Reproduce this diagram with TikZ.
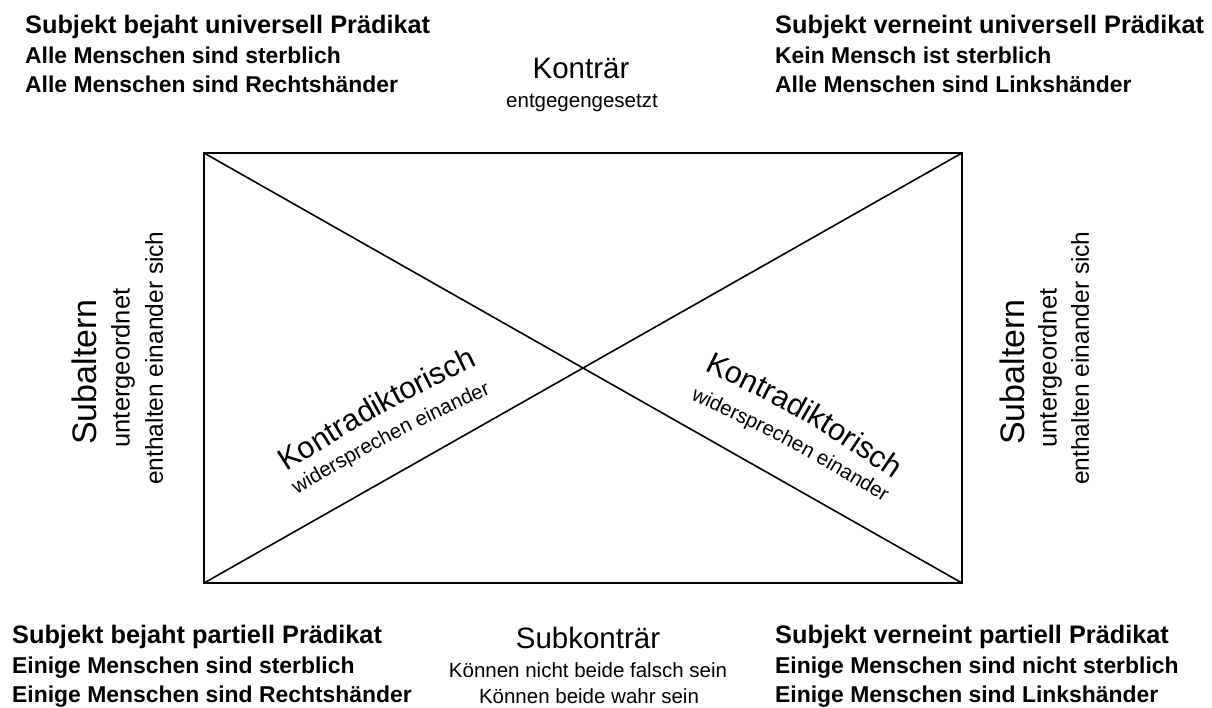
\documentclass[tikz,border=0pt]{standalone}
\usepackage{fontspec}
\setmainfont{Liberation Sans}
\usetikzlibrary{decorations.text}
\begin{document}
\begin{tikzpicture}[x=1pt,y=-1pt,
  head/.style={anchor=base west,inner sep=0pt,font=\bfseries\fontsize{25.3}{28}\selectfont},
  sub/.style={anchor=base west,inner sep=0pt,font=\bfseries\fontsize{22.9}{26}\selectfont},
  big/.style={anchor=base,inner sep=0pt,font=\fontsize{29.5}{32}\selectfont},
  small/.style={anchor=base,inner sep=0pt,font=\fontsize{20.5}{24}\selectfont},
  sidebig/.style={inner sep=0pt,rotate=90,font=\fontsize{34}{36}\selectfont},
  sidemid/.style={inner sep=0pt,rotate=90,font=\fontsize{25.5}{28}\selectfont},
  sidesmall/.style={inner sep=0pt,rotate=90,font=\fontsize{24.5}{28}\selectfont},
  bigarc/.style={decorate,decoration={text along path,text align=center,
     text={|\fontsize{30.5}{33}\selectfont|#1}}},
  smallarc/.style={decorate,decoration={text along path,text align=center,
     text={|\fontsize{20.5}{24}\selectfont|#1}}},
  edge/.style={line width=1.6pt}]
\useasboundingbox (0,0) rectangle (1212,707);
% rectangle corners
\coordinate (TL) at (204,153);
\coordinate (TR) at (962,153);
\coordinate (BR) at (962,583);
\coordinate (BL) at (204,583);
\draw[edge,line join=miter] (TL) -- (TR) -- (BR) -- (BL) -- cycle;
\draw[edge] (TL) -- (BR);
\draw[edge] (BL) -- (TR);
% top left
\node[head] (tl1) at (25,33) {Subjekt bejaht universell Prädikat};
\node[sub] (tl2) at (25,63) {Alle Menschen sind sterblich};
\node[sub] (tl3) at (25,92) {Alle Menschen sind Rechtshänder};
% top right
\node[head] (tr1) at (775,33) {Subjekt verneint universell Prädikat};
\node[sub] (tr2) at (775,63) {Kein Mensch ist sterblich};
\node[sub] (tr3) at (775,92) {Alle Menschen sind Linkshänder};
% bottom left
\node[head] (bl1) at (12,643) {Subjekt bejaht partiell Prädikat};
\node[sub] (bl2) at (12,673) {Einige Menschen sind sterblich};
\node[sub] (bl3) at (12,702) {Einige Menschen sind Rechtshänder};
% bottom right
\node[head] (br1) at (775,643) {Subjekt verneint partiell Prädikat};
\node[sub] (br2) at (775,673) {Einige Menschen sind nicht sterblich};
\node[sub] (br3) at (775,702) {Einige Menschen sind Linkshänder};
% top middle
\node[big] (kon) at (581,78) {Konträr};
\node[small] (kon2) at (582,107) {entgegengesetzt};
% bottom middle
\node[big] (skon) at (588,648) {Subkonträr};
\node[small] (skon2) at (588,677) {Können nicht beide falsch sein};
\node[small] (skon3) at (589,703) {Können beide wahr sein};
% left side
\node[sidebig] (sl) at (84,372) {Subaltern};
\node[sidemid] (sl2) at (123,368) {untergeordnet};
\node[sidesmall] (sl3) at (154,358) {enthalten einander sich};
% right side
\node[sidebig] (sr) at (1012,372) {Subaltern};
\node[sidemid] (sr2) at (1050,368) {untergeordnet};
\node[sidesmall] (sr3) at (1080,358) {enthalten einander sich};
% diagonal labels on slight arcs
\coordinate (klA) at (255,492); \coordinate (klC) at (378,414); \coordinate (klB) at (511,349);
\path[bigarc=Kontradiktorisch] (klA) .. controls (klC) .. (klB);
\coordinate (kl2A) at (271,509); \coordinate (kl2C) at (392,439); \coordinate (kl2B) at (518,381);
\path[smallarc=widersprechen einander] (kl2A) .. controls (kl2C) .. (kl2B);
\coordinate (krA) at (673,355); \coordinate (krC) at (804,418); \coordinate (krB) at (922,499);
\path[bigarc=Kontradiktorisch] (krA) .. controls (krC) .. (krB);
\coordinate (kr2A) at (666,388); \coordinate (kr2C) at (790,446); \coordinate (kr2B) at (907,516);
\path[smallarc=widersprechen einander] (kr2A) .. controls (kr2C) .. (kr2B);
\end{tikzpicture}
\end{document}
